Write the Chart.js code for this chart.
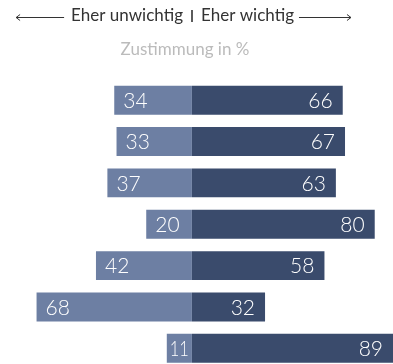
<!DOCTYPE html>
<html>
<head>
<meta charset="utf-8">
<script src="https://cdn.jsdelivr.net/npm/chart.js@4"></script>
<style>
  html, body { margin: 0; padding: 0; background: #fff; overflow: hidden; }
  #wrap { position: relative; width: 393px; height: 369px; }
</style>
</head>
<body>
<div id="wrap"><canvas id="chart"></canvas></div>
<script>
// Zustimmung in %, je Aspekt
const categories = ["Aspekt 1", "Aspekt 2", "Aspekt 3", "Aspekt 4", "Aspekt 5", "Aspekt 6", "Aspekt 7"];
const unwichtig = [34, 33, 37, 20, 42, 68, 11];
const wichtig = [66, 67, 63, 80, 58, 32, 89];

const FONT = "Lato, 'Open Sans', sans-serif";

// header: arrows with the two direction labels and the unit line
const headerPlugin = {
  id: "header",
  afterDraw(chart) {
    const ctx = chart.ctx;
    const cx = 192;
    ctx.save();
    ctx.font = "17px " + FONT;
    ctx.fillStyle = "#333";
    ctx.textBaseline = "middle";
    ctx.textAlign = "right";
    ctx.fillText("Eher unwichtig", cx - 9, 16);
    ctx.textAlign = "left";
    ctx.fillText("Eher wichtig", cx + 9, 16);
    const lw = ctx.measureText("Eher unwichtig").width;
    const rw = ctx.measureText("Eher wichtig").width;

    // divider
    ctx.strokeStyle = "#333";
    ctx.lineWidth = 1.6;
    ctx.beginPath();
    ctx.moveTo(cx, 10);
    ctx.lineTo(cx, 22);
    ctx.stroke();

    // arrows
    ctx.lineWidth = 1;
    const y = 17.5;
    const lx1 = cx - 9 - lw - 7, lx0 = lx1 - 48;
    const rx0 = cx + 9 + rw + 5, rx1 = rx0 + 52;
    ctx.beginPath();
    ctx.moveTo(lx1, y); ctx.lineTo(lx0, y);
    ctx.moveTo(lx0 + 4, y - 3); ctx.lineTo(lx0, y); ctx.lineTo(lx0 + 4, y + 3);
    ctx.moveTo(rx0, y); ctx.lineTo(rx1, y);
    ctx.moveTo(rx1 - 4, y - 3); ctx.lineTo(rx1, y); ctx.lineTo(rx1 - 4, y + 3);
    ctx.stroke();

    ctx.font = "17px " + FONT;
    ctx.fillStyle = "#bbbbbb";
    ctx.textAlign = "center";
    ctx.fillText("Zustimmung in %", 185, 50);
    ctx.restore();
  }
};

// values written inside the bars; squeezed when the bar is too short
const barLabels = {
  id: "barLabels",
  afterDatasetsDraw(chart) {
    const ctx = chart.ctx;
    const area = chart.chartArea;
    ctx.save();
    ctx.font = "300 21px " + FONT;
    ctx.fillStyle = "#fff";
    ctx.textBaseline = "middle";
    ctx.textAlign = "left";
    chart.data.datasets.forEach((ds, i) => {
      chart.getDatasetMeta(i).data.forEach((bar, j) => {
        const text = String(Math.abs(ds.data[j]));
        const left = Math.max(Math.min(bar.x, bar.base), area.left);
        const right = Math.min(Math.max(bar.x, bar.base), area.right);
        const w = ctx.measureText(text).width;
        const room = right - left - 6;
        const sx = w > room ? room / w : 1;
        const x = sx < 1 ? left + 3 : (i === 0 ? left + 9 : right - 10 - w);
        ctx.save();
        ctx.translate(x, bar.y + 1);
        ctx.scale(sx, 1);
        ctx.fillText(text, 0, 0);
        ctx.restore();
      });
    });
    ctx.restore();
  }
};

new Chart(document.getElementById("chart"), {
  type: "bar",
  data: {
    labels: categories,
    datasets: [
      {
        label: "Eher unwichtig",
        data: unwichtig.map((v) => -v),
        backgroundColor: "#6d7fa3",
      },
      {
        label: "Eher wichtig",
        data: wichtig,
        backgroundColor: "#3a4b6c",
      },
    ],
  },
  options: {
    indexAxis: "y",
    responsive: true,
    maintainAspectRatio: false,
    animation: false,
    layout: { padding: { top: 79.5, bottom: 0, left: 0, right: 0 } },
    datasets: { bar: { barPercentage: 0.7, categoryPercentage: 1, borderSkipped: false } },
    plugins: {
      legend: { display: false },
      tooltip: { enabled: false },
      title: { display: false },
    },
    scales: {
      x: { stacked: true, display: false, min: -84, max: 88 },
      y: { stacked: true, display: false },
    },
  },
  plugins: [headerPlugin, barLabels],
});
</script>
</body>
</html>
